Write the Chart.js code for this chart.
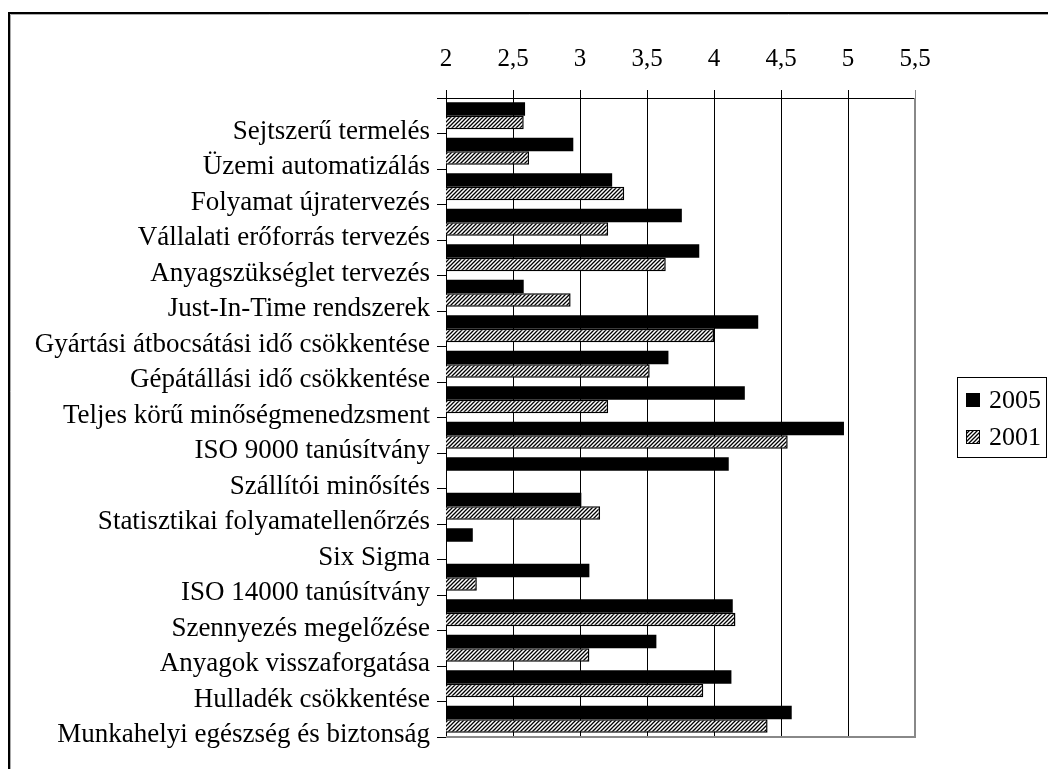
<!DOCTYPE html>
<html><head><meta charset="utf-8">
<script src="https://cdn.jsdelivr.net/npm/chart.js@4"></script>
<style>html,body{margin:0;padding:0;background:#fff}#wrap{width:1048px;height:769px;position:relative}</style>
</head><body><div id="wrap"><canvas id="c"></canvas></div>
<script>
const categories = [
  'Sejtszerű termelés',
  'Üzemi automatizálás',
  'Folyamat újratervezés',
  'Vállalati erőforrás tervezés',
  'Anyagszükséglet tervezés',
  'Just-In-Time rendszerek',
  'Gyártási átbocsátási idő csökkentése',
  'Gépátállási idő csökkentése',
  'Teljes körű minőségmenedzsment',
  'ISO 9000 tanúsítvány',
  'Szállítói minősítés',
  'Statisztikai folyamatellenőrzés',
  'Six Sigma',
  'ISO 14000 tanúsítvány',
  'Szennyezés megelőzése',
  'Anyagok visszaforgatása',
  'Hulladék csökkentése',
  'Munkahelyi egészség és biztonság'
];
const values2005 = [2.59, 2.95, 3.24, 3.76, 3.89, 2.58, 4.33, 3.66, 4.23, 4.97, 4.11, 3.01, 2.20, 3.07, 4.14, 3.57, 4.13, 4.58];
const values2001 = [2.58, 2.62, 3.33, 3.21, 3.64, 2.93, 4.00, 3.52, 3.21, 4.55, null, 3.15, null, 2.23, 4.16, 3.07, 3.92, 4.40];
const seriesNames = ['2005', '2001'];
const xTickLabels = ['2', '2,5', '3', '3,5', '4', '4,5', '5', '5,5'];

const SERIF = '"Liberation Serif", "Times New Roman", serif';

function makeHatch() {
  const c = document.createElement('canvas');
  c.width = 4; c.height = 4;
  const x = c.getContext('2d');
  x.fillStyle = '#fff'; x.fillRect(0, 0, 4, 4);
  x.strokeStyle = '#000'; x.lineWidth = 1.3;
  x.beginPath();
  x.moveTo(0, 4); x.lineTo(4, 0);
  x.moveTo(-1, 1); x.lineTo(1, -1);
  x.moveTo(3, 5); x.lineTo(5, 3);
  x.stroke();
  return x.createPattern(c, 'repeat');
}
const hatch = makeHatch();

const framePlugin = {
  id: 'frame',
  beforeDraw(chart) {
    const ctx = chart.ctx;
    ctx.save();
    ctx.fillStyle = '#fff';
    ctx.fillRect(0, 0, chart.width, chart.height);
    ctx.restore();
  },
  afterDraw(chart) {
    const ctx = chart.ctx;
    const a = chart.chartArea;
    ctx.save();
    // outer frame
    ctx.strokeStyle = '#000'; ctx.lineWidth = 2;
    ctx.beginPath();
    ctx.moveTo(9, chart.height); ctx.lineTo(9, 13); ctx.lineTo(chart.width, 13);
    ctx.stroke();
    ctx.strokeStyle = '#aaa'; ctx.lineWidth = 1;
    ctx.beginPath();
    ctx.moveTo(10.5, chart.height); ctx.lineTo(10.5, 14.5); ctx.lineTo(chart.width, 14.5);
    ctx.stroke();
    // plot area right/bottom border (grey)
    ctx.strokeStyle = '#888'; ctx.lineWidth = 2;
    ctx.beginPath();
    ctx.moveTo(a.right, a.top); ctx.lineTo(a.right, a.bottom); ctx.lineTo(a.left, a.bottom);
    ctx.stroke();
    // legend
    const ds = chart.data.datasets;
    ctx.strokeStyle = '#000'; ctx.lineWidth = 1;
    ctx.strokeRect(957.5, 377.5, 89, 80);
    ctx.font = '26px ' + SERIF;
    ctx.textBaseline = 'middle';
    ctx.textAlign = 'left';
    ctx.fillStyle = '#000';
    const ys = [400, 437];
    ds.forEach((d, i) => {
      const y = ys[i];
      ctx.fillStyle = d.backgroundColor;
      ctx.fillRect(966, y - 7, 14, 14);
      if (i === 1) { ctx.strokeStyle = '#000'; ctx.lineWidth = 1; ctx.strokeRect(966.5, y - 6.5, 13, 13); }
      ctx.fillStyle = '#000';
      ctx.fillText(d.label, 989, y + 1);
    });
    ctx.restore();
  }
};

new Chart(document.getElementById('c'), {
  type: 'bar',
  data: {
    labels: categories,
    datasets: [
      { label: seriesNames[0], data: values2005, backgroundColor: '#000', borderWidth: 0 },
      { label: seriesNames[1], data: values2001, backgroundColor: hatch, borderColor: '#000', borderWidth: 1.5 }
    ]
  },
  options: {
    indexAxis: 'y',
    responsive: true,
    maintainAspectRatio: false,
    animation: false,
    categoryPercentage: 0.76,
    barPercentage: 1.0,
    layout: { padding: { top: 28, bottom: 32, left: 10, right: 133 } },
    plugins: { legend: { display: false }, tooltip: { enabled: false } },
    scales: {
      x: {
        type: 'linear', position: 'top', min: 2, max: 5.5,
        ticks: {
          stepSize: 0.5, color: '#000', padding: 16,
          font: { family: SERIF, size: 25 },
          callback: (v, i) => xTickLabels[i] !== undefined ? xTickLabels[i] : String(v)
        },
        grid: {
          color: (c) => (c.tick && c.tick.value === 5.5) ? '#888' : '#000',
          lineWidth: 1, tickLength: 8, drawTicks: true
        },
        border: { display: true, color: '#000', width: 1 }
      },
      y: {
        type: 'category',
        ticks: {
          color: '#000', padding: 7, labelOffset: 16, autoSkip: false,
          font: { family: SERIF, size: 27 }
        },
        grid: { drawOnChartArea: false, drawTicks: true, tickLength: 9, color: '#000', offset: true },
        border: { display: true, color: '#000', width: 1 },
        afterFit: (s) => { s.width = 436; }
      }
    }
  },
  plugins: [framePlugin]
});
</script>
</body></html>
